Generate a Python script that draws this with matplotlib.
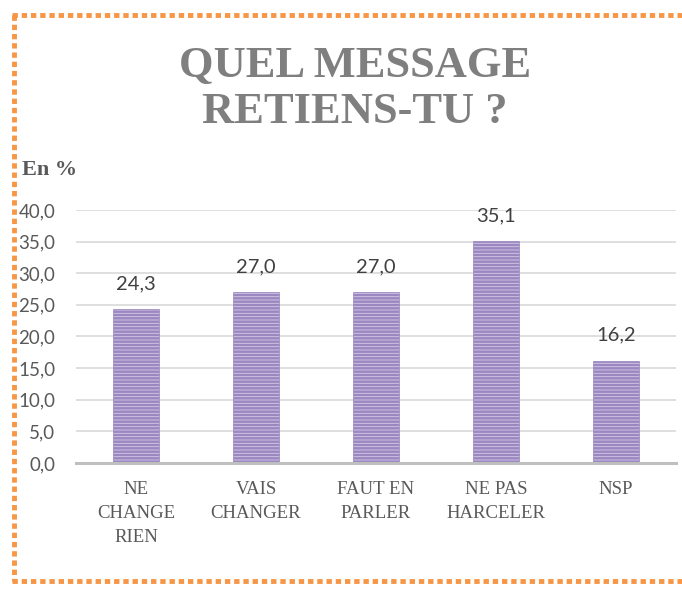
import matplotlib.pyplot as plt
from matplotlib.lines import Line2D

# data
categories = ["NE\nCHANGE\nRIEN", "VAIS\nCHANGER", "FAUT EN\nPARLER", "NE PAS\nHARCELER", "NSP"]
values = [24.3, 27.0, 27.0, 35.1, 16.2]
yticks = [0, 5, 10, 15, 20, 25, 30, 35, 40]

plt.rcParams['hatch.linewidth'] = 1.8
plt.rcParams['hatch.color'] = '#6c519c'

fig = plt.figure(figsize=(6.82, 5.9), dpi=100)
ax = fig.add_axes([76 / 682, 127 / 590, 600 / 682, 253 / 590])

x = range(len(categories))
bars = ax.bar(x, values, width=0.38, color='#d6cae8', edgecolor='#9c88c0',
              linewidth=0.5, hatch='-----', zorder=3)

for b, v in zip(bars, values):
    ax.text(b.get_x() + b.get_width() / 2, v + 4.0, f"{v:.1f}".replace('.', ','),
            ha='center', va='center', fontsize=14.5, color='#404040', family='Lato')

ax.set_xlim(-0.5, len(categories) - 0.5)
ax.set_ylim(0, 40)
ax.set_yticks(yticks)
ax.set_yticklabels([f"{t:.1f}".replace('.', ',') for t in yticks],
                   fontsize=13.5, color='#595959', family='Lato')
ax.set_xticks(list(x))
ax.set_xticklabels(categories, fontsize=13.5, color='#595959', family='Liberation Serif',
                   linespacing=1.55)
ax.tick_params(axis='both', length=0)
ax.tick_params(axis='y', pad=15)
ax.tick_params(axis='x', pad=13)

ax.grid(axis='y', color='#d9d9d9', linewidth=1.2, zorder=0)
for s in ['top', 'right', 'left']:
    ax.spines[s].set_visible(False)
ax.spines['bottom'].set_color('#bfbfbf')
ax.spines['bottom'].set_linewidth(2.2)
ax.spines['bottom'].set_zorder(4)

# title and axis caption
fig.text(355 / 682, 1 - 89 / 590, "QUEL MESSAGE\nRETIENS-TU ?", ha='center', va='center',
         fontsize=32, fontweight='bold', color='#7f7f7f', family='Liberation Serif',
         linespacing=1.2)
fig.text(22 / 682, 1 - 170 / 590, "En %", ha='left', va='center', fontsize=16,
         fontweight='bold', color='#595959', family='Liberation Serif')

# dotted orange frame (right side is cut off)
dots = dict(color='#f79646', linewidth=3.5, linestyle=(0, (1.1, 0.8)), solid_capstyle='butt')
fig.add_artist(Line2D([12 / 682, 1], [1 - 15 / 590] * 2, transform=fig.transFigure, **dots))
fig.add_artist(Line2D([12 / 682, 1], [1 - 581 / 590] * 2, transform=fig.transFigure, **dots))
fig.add_artist(Line2D([14 / 682] * 2, [1 - 15 / 590, 1 - 581 / 590], transform=fig.transFigure, **dots))

fig.savefig("out.png", dpi=100)
